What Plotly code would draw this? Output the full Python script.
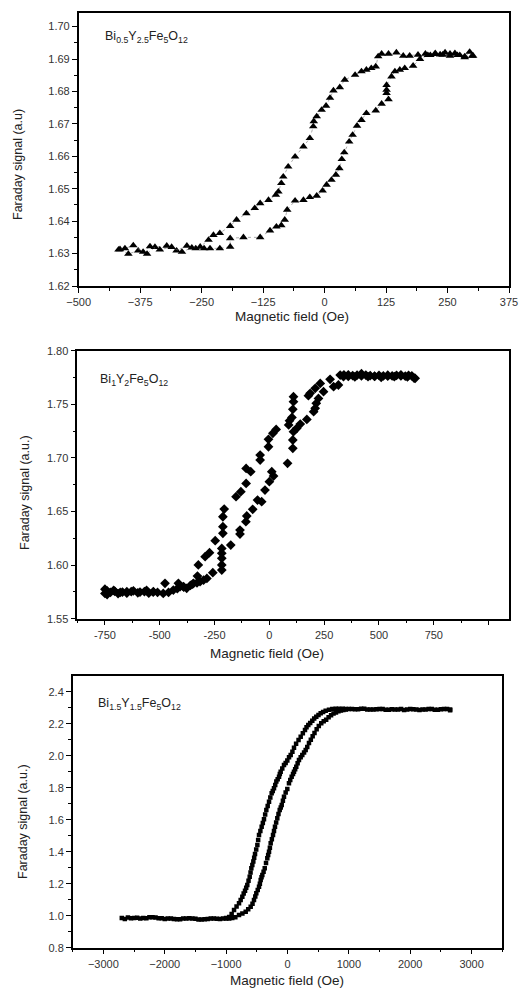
import plotly.graph_objects as go

# ---------------- Panel 1: Bi0.5Y2.5Fe5O12 ----------------
x1_up = [-416, -399, -379, -361, -345, -321, -301, -280, -262, -245, -233, -213, -192, -192,
         -165, -131, -111, -98, -88, -81, -76, -60, -43, -30, -16, -4, 4, 14, 23, 30, 35, 40,
         50, 57, 66, 75, 85, 104, 116, 130, 126, 126, 126, 136, 143, 153, 163, 180, 194, 210,
         225, 240, 255, 270, 285, 300]
y1_up = [1.6313, 1.6299, 1.6309, 1.6299, 1.6320, 1.6324, 1.6309, 1.6324, 1.6316, 1.6316,
         1.6316, 1.6316, 1.6321, 1.6347, 1.6350, 1.6350, 1.6371, 1.6383, 1.6387, 1.6404,
         1.6435, 1.6463, 1.6465, 1.6474, 1.6478, 1.6494, 1.6512, 1.6527, 1.6543, 1.6563,
         1.6591, 1.6612, 1.6645, 1.6666, 1.6694, 1.6712, 1.6733, 1.6741, 1.6762, 1.6776,
         1.6795, 1.6805, 1.6820, 1.6846, 1.6862, 1.6867, 1.6872, 1.6879, 1.6900, 1.6912,
         1.6915, 1.6913, 1.6916, 1.6912, 1.6908, 1.6910]
x1_dn = [302, 295, 285, 275, 265, 255, 245, 235, 225, 215, 205, 190, 173, 160, 146, 130, 116,
         109, 104, 95, 85, 75, 62, 41, 31, 18, 11, 3, -6, -16, -22, -23, -30, -43, -60, -74,
         -84, -88, -94, -99, -114, -131, -142, -159, -179, -192, -213, -226, -236, -253, -270,
         -290, -311, -335, -355, -369, -389, -406, -419]
y1_dn = [1.6910, 1.6922, 1.6905, 1.6912, 1.6918, 1.6910, 1.6920, 1.6914, 1.6918, 1.6912,
         1.6916, 1.6913, 1.6910, 1.6910, 1.6920, 1.6916, 1.6916, 1.6908, 1.6877, 1.6872,
         1.6867, 1.6862, 1.6851, 1.6836, 1.6813, 1.6803, 1.6780, 1.6756, 1.6743, 1.6723,
         1.6708, 1.6692, 1.6656, 1.6630, 1.6599, 1.6568, 1.6537, 1.6517, 1.6491, 1.6481,
         1.6465, 1.6455, 1.6440, 1.6424, 1.6404, 1.6385, 1.6363, 1.6357, 1.6342, 1.6321,
         1.6318, 1.6305, 1.6320, 1.6312, 1.6322, 1.6305, 1.6325, 1.6316, 1.6312]

# ---------------- Panel 2: Bi1Y2Fe5O12 ----------------
x2_up = [-750, -740, -725, -705, -690, -670, -650, -630, -600, -570, -550, -530, -510, -484,
         -460, -438, -420, -407, -390, -377, -360, -346, -330, -316, -300, -285, -258, -217,
         -217, -217, -217, -217, -176, -134, -134, -107, -103, -76, -54, -35, -20, 0, 11, 19,
         83, 107, 107, 110, 125, 141, 171, 202, 209, 214, 224, 247, 293, 315, 338, 360, 390,
         420, 450, 480, 510, 540, 570, 600, 630, 660]
y2_up = [1.5736, 1.5725, 1.5745, 1.5755, 1.5735, 1.5748, 1.5738, 1.5752, 1.5742, 1.5752,
         1.5738, 1.5748, 1.5745, 1.5736, 1.5745, 1.5767, 1.5780, 1.5799, 1.5795, 1.5783,
         1.5810, 1.5830, 1.5835, 1.5845, 1.5860, 1.5876, 1.5929, 1.5954, 1.6001, 1.6063,
         1.6110, 1.6156, 1.6187, 1.6290, 1.6327, 1.6405, 1.6458, 1.6520, 1.6607, 1.6591,
         1.6700, 1.6778, 1.6871, 1.6830, 1.6949, 1.7089, 1.7167, 1.7244, 1.7276, 1.7316,
         1.7359, 1.7431, 1.7462, 1.7509, 1.7555, 1.7618, 1.7664, 1.7680, 1.7758, 1.7760,
         1.7755, 1.7765, 1.7758, 1.7760, 1.7752, 1.7762, 1.7758, 1.7765, 1.7755, 1.7745]
x2_dn = [665, 650, 635, 620, 600, 580, 560, 540, 520, 500, 480, 460, 440, 420, 400, 380, 360,
         340, 323, 277, 232, 209, 186, 178, 110, 110, 107, 103, 92, 88, 31, 16, -4, -4, -42,
         -42, -85, -106, -106, -130, -152, -206, -212, -212, -212, -247, -273, -293, -324,
         -328, -350, -392, -415, -476, -529, -560, -590, -620, -650, -680, -710, -740, -750]
y2_dn = [1.7742, 1.7765, 1.7770, 1.7762, 1.7775, 1.7770, 1.7765, 1.7772, 1.7765, 1.7770,
         1.7762, 1.7768, 1.7773, 1.7785, 1.7772, 1.7768, 1.7775, 1.7775, 1.7773, 1.7733,
         1.7695, 1.7649, 1.7602, 1.7580, 1.7571, 1.7524, 1.7453, 1.7378, 1.7347, 1.7307,
         1.7266, 1.7229, 1.7173, 1.7104, 1.7027, 1.6980, 1.6871, 1.6902, 1.6762, 1.6685,
         1.6638, 1.6523, 1.6451, 1.6358, 1.6296, 1.6228, 1.6116, 1.6078, 1.6001, 1.5898,
         1.5823, 1.5799, 1.5830, 1.5830, 1.5752, 1.5765, 1.5748, 1.5760, 1.5752, 1.5745,
         1.5765, 1.5760, 1.5775]

# ---------------- Panel 3: Bi1.5Y1.5Fe5O12 ----------------
x3_up = [-2700, -2600, -2500, -2400, -2300, -2200, -2100, -2000, -1900, -1800, -1700, -1600,
         -1500, -1400, -1300, -1200, -1100, -1000, -950, -900, -850, -790, -735, -681, -640,
         -600, -570, -546, -525, -508, -485, -464, -450, -437, -423, -410, -390, -371, -350,
         -329, -315, -301, -287, -274, -255, -236, -220, -204, -185, -166, -147, -127, -110,
         -94, -75, -57, -30, -3, 24, 45, 68, 90, 106, 125, 143, 165, 187, 215, 241, 270, 296,
         322, 350, 380, 410, 440, 475, 510, 550, 590, 630, 670, 710, 750, 790, 830, 870, 910,
         950, 1000, 1100, 1200, 1300, 1400, 1500, 1600, 1700, 1800, 1900, 2000, 2100, 2200,
         2300, 2400, 2500, 2600, 2650]
y3_up = [0.985, 0.988, 0.985, 0.983, 0.984, 0.990, 0.984, 0.980, 0.982, 0.978, 0.982, 0.984,
         0.981, 0.977, 0.980, 0.982, 0.980, 0.982, 0.983, 0.985, 0.990, 1.004, 1.014, 1.025,
         1.040, 1.056, 1.075, 1.098, 1.120, 1.140, 1.160, 1.181, 1.200, 1.223, 1.240, 1.254,
         1.275, 1.296, 1.330, 1.359, 1.380, 1.400, 1.425, 1.452, 1.478, 1.504, 1.530, 1.556,
         1.583, 1.609, 1.635, 1.661, 1.676, 1.692, 1.718, 1.744, 1.770, 1.792, 1.827, 1.848,
         1.869, 1.885, 1.900, 1.915, 1.931, 1.952, 1.973, 1.990, 2.004, 2.020, 2.036, 2.055,
         2.080, 2.100, 2.122, 2.142, 2.165, 2.185, 2.202, 2.215, 2.225, 2.240, 2.252, 2.263,
         2.270, 2.277, 2.282, 2.286, 2.289, 2.291, 2.290, 2.293, 2.288, 2.289, 2.292, 2.287,
         2.290, 2.289, 2.286, 2.291, 2.288, 2.289, 2.292, 2.287, 2.290, 2.291, 2.284]
x3_dn = [2650, 2550, 2450, 2350, 2250, 2150, 2050, 1950, 1850, 1750, 1650, 1550, 1450, 1350,
         1250, 1150, 1050, 950, 900, 839, 785, 730, 676, 622, 580, 541, 505, 469, 435, 404,
         370, 339, 310, 285, 250, 215, 180, 140, 106, 80, 52, 25, -3, -30, -57, -85, -111,
         -125, -138, -160, -182, -200, -220, -240, -258, -280, -301, -323, -345, -364, -383,
         -402, -421, -442, -464, -478, -491, -510, -529, -543, -557, -573, -589, -602, -616,
         -635, -655, -673, -692, -714, -736, -763, -790, -830, -871, -910, -950, -1000, -1050,
         -1150, -1250, -1350, -1450, -1550, -1650, -1750, -1850, -1950, -2050, -2150, -2250,
         -2350, -2450, -2550, -2650]
y3_dn = [2.288, 2.292, 2.287, 2.291, 2.289, 2.286, 2.290, 2.288, 2.292, 2.289, 2.287, 2.291,
         2.290, 2.288, 2.293, 2.290, 2.291, 2.292, 2.294, 2.294, 2.293, 2.291, 2.287, 2.281,
         2.273, 2.265, 2.255, 2.244, 2.232, 2.219, 2.205, 2.192, 2.177, 2.161, 2.140, 2.119,
         2.098, 2.075, 2.050, 2.025, 2.004, 1.990, 1.970, 1.955, 1.942, 1.920, 1.900, 1.885,
         1.869, 1.853, 1.838, 1.817, 1.796, 1.780, 1.765, 1.738, 1.712, 1.686, 1.661, 1.632,
         1.603, 1.580, 1.556, 1.530, 1.504, 1.473, 1.442, 1.414, 1.386, 1.362, 1.338, 1.317,
         1.296, 1.270, 1.244, 1.218, 1.192, 1.174, 1.156, 1.138, 1.119, 1.098, 1.078, 1.057,
         1.036, 1.010, 0.992, 0.985, 0.983, 0.981, 0.982, 0.978, 0.976, 0.982, 0.983, 0.978,
         0.980, 0.982, 0.984, 0.988, 0.990, 0.985, 0.987, 0.984, 0.980]

W, H = 523, 990
def px_x(p):
    return p / W
def px_y(p):
    return 1 - p / H

fig = go.Figure()

tri = dict(symbol="triangle-up", size=7.5, color="black")
dia = dict(symbol="diamond", size=7.5, color="black")
sq = dict(symbol="square", size=4.5, color="black")
thin = dict(color="#777777", width=0.6, dash="dot")

fig.add_trace(go.Scatter(x=x1_up, y=y1_up, mode="lines+markers", marker=tri, line=thin,
                         xaxis="x", yaxis="y"))
fig.add_trace(go.Scatter(x=x1_dn, y=y1_dn, mode="lines+markers", marker=tri, line=thin,
                         xaxis="x", yaxis="y"))
fig.add_trace(go.Scatter(x=x2_up, y=y2_up, mode="markers", marker=dia, xaxis="x2", yaxis="y2"))
fig.add_trace(go.Scatter(x=x2_dn, y=y2_dn, mode="markers", marker=dia, xaxis="x2", yaxis="y2"))
fig.add_trace(go.Scatter(x=x3_up, y=y3_up, mode="markers", marker=sq, xaxis="x3", yaxis="y3"))
fig.add_trace(go.Scatter(x=x3_dn, y=y3_dn, mode="markers", marker=sq, xaxis="x3", yaxis="y3"))

tickfont = dict(family="Liberation Sans, Arial, sans-serif", size=11, color="#333333")

def minor(dt, t0):
    return dict(ticks="outside", ticklen=3, tickwidth=1, tickcolor="black", dtick=dt, tick0=t0)

def axis_common(**kw):
    d = dict(showgrid=False, zeroline=False, showline=True, linecolor="black", linewidth=1.5,
             mirror=True, ticks="outside", ticklen=5, tickwidth=1.2, tickcolor="black",
             tickfont=tickfont, automargin=False, ticklabeloverflow="allow")
    d.update(kw)
    return d

fig.update_layout(
    xaxis=axis_common(domain=[px_x(78.7), px_x(509)], range=[-500, 375], anchor="y",
                      tickmode="array", tickvals=[-500, -375, -250, -125, 0, 125, 250, 375],
                      minor=minor(62.5, -500)),
    yaxis=axis_common(domain=[px_y(286), px_y(12.7)], range=[1.62, 1.7043], anchor="x",
                      tickmode="array",
                      tickvals=[1.62, 1.63, 1.64, 1.65, 1.66, 1.67, 1.68, 1.69, 1.70],
                      ticktext=["1.62", "1.63", "1.64", "1.65", "1.66", "1.67", "1.68",
                                "1.69", "1.70"],
                      minor=minor(0.005, 1.62)),
    xaxis2=axis_common(domain=[px_x(77.3), px_x(509)], range=[-876, 1093], anchor="y2",
                       tickmode="array", tickvals=[-750, -500, -250, 0, 250, 500, 750, 1000],
                       ticktext=["-750", "-500", "-250", "0", "250", "500", "750", ""],
                       minor=minor(125, -750)),
    yaxis2=axis_common(domain=[px_y(618.7), px_y(350.7)], range=[1.55, 1.80], anchor="x2",
                       tickmode="array", tickvals=[1.55, 1.60, 1.65, 1.70, 1.75, 1.80],
                       ticktext=["1.55", "1.60", "1.65", "1.70", "1.75", "1.80"],
                       minor=minor(0.025, 1.55)),
    xaxis3=axis_common(domain=[px_x(72.7), px_x(502.3)], range=[-3500, 3500], anchor="y3",
                       tickmode="array",
                       tickvals=[-3000, -2000, -1000, 0, 1000, 2000, 3000],
                       minor=minor(500, -3500)),
    yaxis3=axis_common(domain=[px_y(947.7), px_y(676)], range=[0.8, 2.498], anchor="x3",
                       tickmode="array",
                       tickvals=[0.8, 1.0, 1.2, 1.4, 1.6, 1.8, 2.0, 2.2, 2.4],
                       ticktext=["0.8", "1.0", "1.2", "1.4", "1.6", "1.8", "2.0", "2.2", "2.4"],
                       minor=minor(0.1, 0.8)),
)

labfont = dict(family="Liberation Sans, Arial, sans-serif", size=13.5, color="#222222")
ylabfont = dict(family="Liberation Sans, Arial, sans-serif", size=12.5, color="#222222")
formfont = dict(family="Liberation Sans, Arial, sans-serif", size=12.5, color="#222222")

annots = []
for xc, yc in [(292, 316), (267, 653), (287, 980)]:
    annots.append(dict(text="Magnetic field (Oe)", x=px_x(xc), y=px_y(yc), xref="paper",
                       yref="paper", showarrow=False, font=labfont, xanchor="center",
                       yanchor="middle"))
for txt, xc, yc in [("Faraday signal (a.u)", 18, 165), ("Faraday signal (a.u.)", 25, 493),
                    ("Faraday signal (a.u.)", 23, 822)]:
    annots.append(dict(text=txt, x=px_x(xc), y=px_y(yc), xref="paper", yref="paper",
                       showarrow=False, font=ylabfont, textangle=-90, xanchor="center",
                       yanchor="middle"))
for txt, xc, yc in [("Bi<sub>0.5</sub>Y<sub>2.5</sub>Fe<sub>5</sub>O<sub>12</sub>", 103, 37),
                    ("Bi<sub>1</sub>Y<sub>2</sub>Fe<sub>5</sub>O<sub>12</sub>", 98, 380),
                    ("Bi<sub>1.5</sub>Y<sub>1.5</sub>Fe<sub>5</sub>O<sub>12</sub>", 96, 704)]:
    annots.append(dict(text=txt, x=px_x(xc), y=px_y(yc), xref="paper", yref="paper",
                       showarrow=False, font=formfont, xanchor="left", yanchor="middle"))

fig.update_layout(width=W, height=H, margin=dict(l=0, r=0, t=0, b=0),
                  paper_bgcolor="white", plot_bgcolor="white", showlegend=False,
                  annotations=annots)

fig.write_html("out.html", config={"displayModeBar": False},
               post_script="document.body.style.margin='0px';"
                           "document.body.style.overflow='hidden';")
